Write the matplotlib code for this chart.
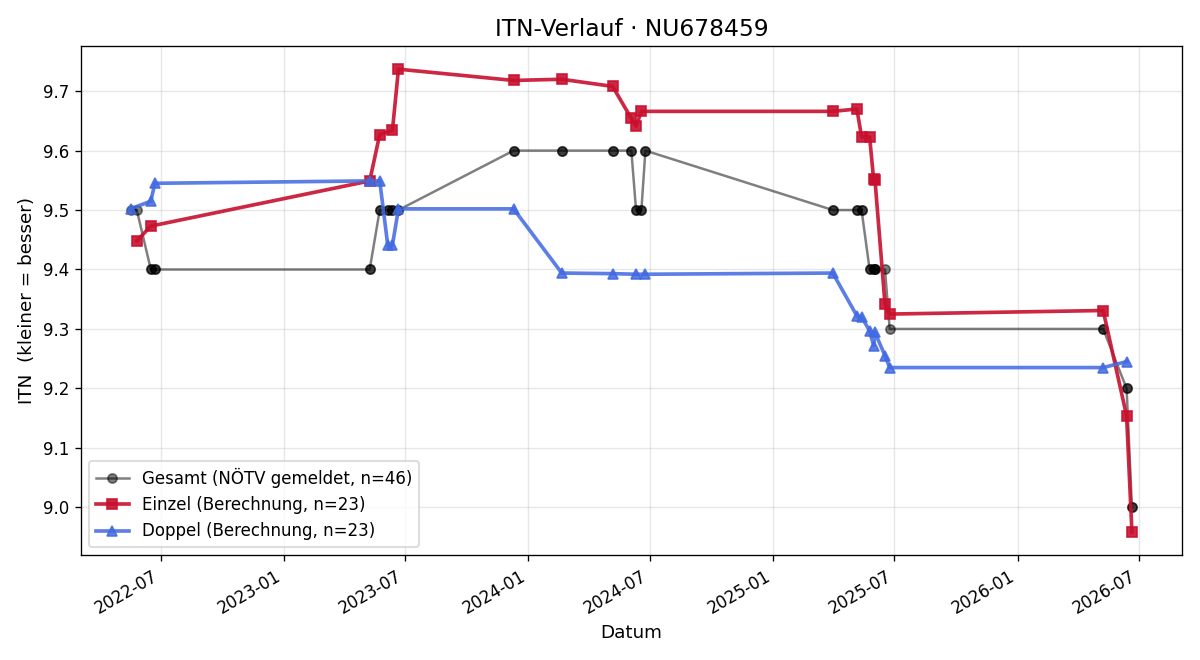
import pandas as pd
import matplotlib
matplotlib.use("Agg")
import matplotlib.pyplot as plt
import matplotlib.dates as mdates

# Einzel (Berechnung)
einzel_dates = ["2022-05-26", "2022-06-16", "2023-05-09", "2023-05-24", "2023-06-12",
                "2023-06-21", "2023-12-10", "2024-02-20", "2024-05-06", "2024-06-03",
                "2024-06-10", "2024-06-18", "2025-03-31", "2025-05-06", "2025-05-13",
                "2025-05-25", "2025-05-31", "2025-06-02", "2025-06-17", "2025-06-24",
                "2026-05-09", "2026-06-13", "2026-06-21"]
einzel_vals = [9.448, 9.473, 9.549, 9.627, 9.634,
               9.737, 9.718, 9.720, 9.708, 9.654,
               9.641, 9.666, 9.666, 9.670, 9.623,
               9.623, 9.552, 9.551, 9.342, 9.325,
               9.331, 9.154, 8.958]

# Doppel (Berechnung)
doppel_dates = ["2022-05-17", "2022-06-16", "2022-06-22", "2023-05-09", "2023-05-24",
                "2023-06-05", "2023-06-12", "2023-06-21", "2023-12-10", "2024-02-20",
                "2024-05-06", "2024-06-10", "2024-06-24", "2025-03-31", "2025-05-06",
                "2025-05-13", "2025-05-25", "2025-05-31", "2025-06-02", "2025-06-17",
                "2025-06-24", "2026-05-09", "2026-06-13"]
doppel_vals = [9.502, 9.515, 9.545, 9.549, 9.549,
               9.441, 9.441, 9.502, 9.502, 9.394,
               9.393, 9.392, 9.392, 9.394, 9.322,
               9.320, 9.297, 9.272, 9.294, 9.255,
               9.235, 9.235, 9.245]

# Gesamt (NÖTV gemeldet), jede Meldung doppelt vorhanden
gesamt_dates = ["2022-05-17", "2022-05-26", "2022-06-16", "2022-06-16", "2022-06-22", "2022-06-22",
                "2023-05-09", "2023-05-09", "2023-05-24", "2023-05-24", "2023-06-05", "2023-06-05",
                "2023-06-12", "2023-06-12", "2023-06-21", "2023-06-21", "2023-12-10", "2023-12-10",
                "2024-02-20", "2024-02-20", "2024-05-06", "2024-05-06", "2024-06-03", "2024-06-03",
                "2024-06-10", "2024-06-10", "2024-06-18", "2024-06-18", "2024-06-24", "2024-06-24",
                "2025-03-31", "2025-03-31", "2025-05-06", "2025-05-06", "2025-05-13", "2025-05-13",
                "2025-05-25", "2025-05-25", "2025-05-31", "2025-05-31", "2025-06-02", "2025-06-02",
                "2025-06-17", "2025-06-24", "2026-05-09", "2026-05-09", "2026-06-13", "2026-06-13",
                "2026-06-21", "2026-06-21"]
gesamt_vals = [9.5, 9.5, 9.4, 9.4, 9.4, 9.4,
               9.4, 9.4, 9.5, 9.5, 9.5, 9.5,
               9.5, 9.5, 9.5, 9.5, 9.6, 9.6,
               9.6, 9.6, 9.6, 9.6, 9.6, 9.6,
               9.5, 9.5, 9.5, 9.5, 9.6, 9.6,
               9.5, 9.5, 9.5, 9.5, 9.5, 9.5,
               9.4, 9.4, 9.4, 9.4, 9.4, 9.4,
               9.4, 9.3, 9.3, 9.3, 9.2, 9.2,
               9.0, 9.0]

fig, ax = plt.subplots(figsize=(10, 5.5), dpi=120)

ax.plot(pd.to_datetime(gesamt_dates), gesamt_vals, marker="o", color="black",
        alpha=0.5, linewidth=1.5, markersize=5.5, label="Gesamt (NÖTV gemeldet, n=46)")
ax.plot(pd.to_datetime(einzel_dates), einzel_vals, marker="s", color="#c8102e",
        alpha=0.9, linewidth=2.2, markersize=6.5, label="Einzel (Berechnung, n=23)")
ax.plot(pd.to_datetime(doppel_dates), doppel_vals, marker="^", color="#4169e1",
        alpha=0.85, linewidth=2.2, markersize=6.5, label="Doppel (Berechnung, n=23)")

ax.xaxis.set_major_locator(mdates.MonthLocator(bymonth=[1, 7]))
ax.xaxis.set_major_formatter(mdates.DateFormatter("%Y-%m"))
fig.autofmt_xdate()

ax.set_title("ITN-Verlauf · NU678459", fontsize=14)
ax.set_xlabel("Datum", fontsize=11)
ax.set_ylabel("ITN  (kleiner = besser)", fontsize=11)
ax.grid(True, alpha=0.3)
ax.legend(loc="lower left", fontsize=10)

plt.tight_layout()
plt.savefig("out.png")
